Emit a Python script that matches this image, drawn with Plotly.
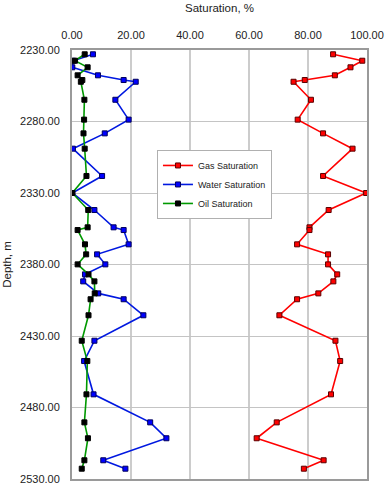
import plotly.graph_objects as go

depth = [2233.0, 2237.5, 2242.1, 2247.7, 2251.0, 2252.2, 2264.8, 2278.7, 2288.3, 2299.0,
         2318.1, 2330.0, 2341.9, 2354.0, 2355.9, 2365.9, 2372.9, 2379.9, 2386.9, 2391.8,
         2400.2, 2404.3, 2415.5, 2433.3, 2447.5, 2470.8, 2490.4, 2501.5, 2516.9, 2522.8]
gas = [88.5, 98.4, 94.4, 89.1, 78.9, 75.1, 81.0, 76.5, 85.1, 95.1,
       85.1, 99.7, 87.0, 80.5, 80.5, 76.3, 86.8, 86.8, 89.9, 88.6,
       83.5, 76.3, 70.3, 89.3, 90.9, 87.8, 69.4, 62.6, 85.3, 78.6]
water = [7.1, 0.4, 0.1, 8.8, 17.5, 21.6, 14.7, 19.2, 11.1, 0.3,
         10.2, 0.1, 7.6, 14.1, 17.5, 19.2, 8.5, 11.3, 4.4, 3.8,
         8.9, 17.5, 24.2, 7.6, 4.1, 7.3, 26.5, 32.0, 10.6, 18.1]
oil = [4.3, 1.0, 5.3, 1.9, 3.5, 3.0, 4.2, 4.1, 3.9, 4.3,
       4.9, 0.1, 5.5, 5.3, 1.9, 4.4, 4.8, 1.9, 5.6, 7.6,
       7.7, 6.3, 5.6, 3.3, 5.2, 4.9, 4.2, 5.4, 4.2, 3.3]

series = [
    ("Gas Saturation", gas, "#ff0000", "#ff0000", "#5a0000"),
    ("Water Saturation", water, "#0018e0", "#0000ff", "#00005a"),
    ("Oil Saturation", oil, "#009900", "#000000", "#000000"),
]

FONT = "Liberation Sans, Arial, sans-serif"

fig = go.Figure()
for name, vals, lc, mc, mlc in series:
    fig.add_trace(go.Scatter(
        x=vals, y=depth, name=name, mode="lines+markers",
        line=dict(color=lc, width=1.6),
        marker=dict(symbol="square", size=5, color=mc, line=dict(color=mlc, width=1)),
    ))

fig.update_layout(
    width=387, height=487,
    margin=dict(l=72, r=20, t=50, b=8, autoexpand=False),
    paper_bgcolor="white", plot_bgcolor="white",
    font=dict(family=FONT, size=11, color="#222222"),
    showlegend=True,
    legend=dict(
        x=0.288, y=0.767, xanchor="left", yanchor="top",
        bgcolor="white", bordercolor="#b0b0b0", borderwidth=1,
        font=dict(family=FONT, size=9, color="#222222"),
        tracegroupgap=0, itemwidth=30,
    ),
    xaxis=dict(
        side="top", range=[0, 100], dtick=20, tick0=0, tickformat=".2f",
        showgrid=True, gridcolor="#cccccc", gridwidth=1.5,
        showline=True, linecolor="#9a9a9a", linewidth=2, mirror=True,
        ticks="", ticklen=0, ticklabelstandoff=5, automargin=False,
        tickfont=dict(family=FONT, size=11, color="#222222"),
        title=dict(text="Saturation, %", font=dict(family=FONT, size=11.5, color="#222222"), standoff=14),
        zeroline=False,
    ),
    yaxis=dict(
        range=[2530, 2230], dtick=50, tick0=2230, tickformat=".2f",
        showgrid=True, gridcolor="#c4c4c4", gridwidth=1,
        showline=True, linecolor="#9a9a9a", linewidth=2, mirror=True,
        ticks="", ticklabelstandoff=8, automargin=False,
        tickfont=dict(family=FONT, size=11, color="#222222"),
        title=dict(text="Depth, m", font=dict(family=FONT, size=11.5, color="#222222"), standoff=6),
        zeroline=False,
    ),
)

fig.write_html("out.html", config={"displayModeBar": False},
               post_script="document.body.style.margin='0';")
